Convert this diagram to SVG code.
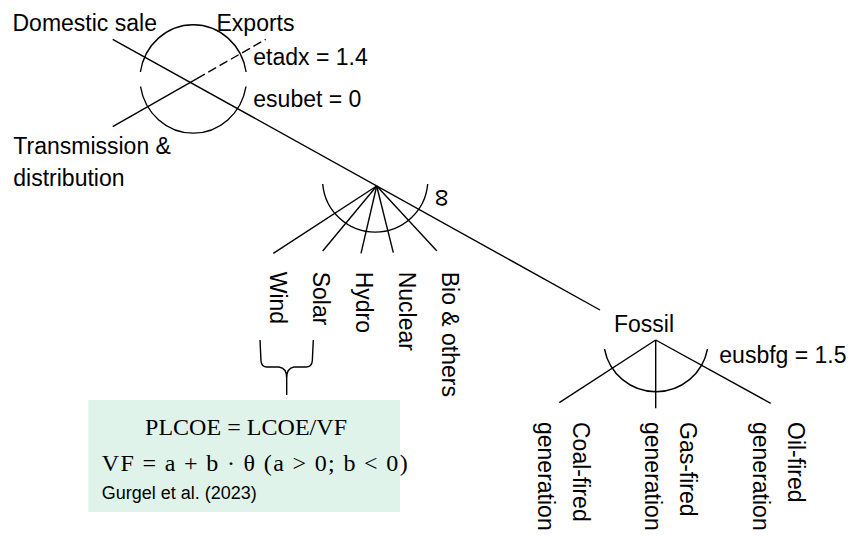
<svg xmlns="http://www.w3.org/2000/svg" width="856" height="536" viewBox="0 0 856 536">
  <style>
    .ln { fill: none; stroke: #000; stroke-width: 1.4; stroke-linecap: butt; }
    .dash { stroke-dasharray: 9 4; }
    .lbl { font-family: "Liberation Sans", Arial, sans-serif; font-size: 23px; fill: #000; }
    .math { font-family: "Liberation Serif", "Times New Roman", serif; font-size: 24px; fill: #000; }
    .ref { font-family: "Liberation Sans", Arial, sans-serif; font-size: 18px; fill: #000; }
  </style>
  <rect width="856" height="536" fill="#fff"/>

  <!-- branches of the nesting tree -->
  <g id="connectors">
    <!-- domestic sale -> renewables nest -> fossil -->
    <line class="ln" x1="112.7" y1="39.3" x2="600" y2="310"/>
    <!-- transmission & distribution, with dashed export branch -->
    <line class="ln" x1="112.7" y1="126.7" x2="197" y2="78.6"/>
    <line class="ln dash" x1="197" y1="78.6" x2="265.7" y2="39.3"/>
    <!-- renewable technologies -->
    <line class="ln" x1="376.7" y1="186" x2="273.3" y2="253.3"/>
    <line class="ln" x1="376.7" y1="186" x2="322.7" y2="251"/>
    <line class="ln" x1="376.7" y1="186" x2="361" y2="253.3"/>
    <line class="ln" x1="376.7" y1="186" x2="393.3" y2="252.7"/>
    <line class="ln" x1="376.7" y1="186" x2="436.7" y2="250.7"/>
    <!-- fossil technologies -->
    <line class="ln" x1="655.7" y1="340" x2="559.3" y2="402.7"/>
    <line class="ln" x1="655.7" y1="340" x2="655.7" y2="408.3"/>
    <line class="ln" x1="655.7" y1="340" x2="770.7" y2="403.3"/>
    <!-- brace joining wind and solar to the cost note -->
    <path class="ln" d="M260 340 L261 361 Q261.5 367 267 367 L279 367 Q286.7 368 286.7 378 L286.7 395 M313.3 340 L312.3 361 Q311.8 367 306 367 L294 367 Q286.7 368 286.7 378"/>
  </g>

  <!-- top nest: sales vs. transmission -->
  <g id="node-top">
    <path class="ln" d="M140.4 72 A53.5 56 0 0 1 246.1 72"/>
    <path class="ln" d="M140.5 86.5 A53.5 56 0 0 0 246 86.5"/>
    <text class="lbl" x="12.5" y="30.5">Domestic sale</text>
    <text class="lbl" x="216.5" y="30.5">Exports</text>
    <text class="lbl" x="253.3" y="65">etadx = 1.4</text>
    <text class="lbl" x="253.3" y="107.3">esubet = 0</text>
    <text class="lbl" x="13.3" y="154.3">Transmission &amp;</text>
    <text class="lbl" x="13.3" y="185.7">distribution</text>
  </g>

  <!-- renewables nest -->
  <g id="node-renewables">
    <path class="ln" d="M322.7 184 A52.7 52.7 0 0 0 427.7 184"/>
    <text class="lbl" style="font-size:25px" text-anchor="middle" transform="translate(440,198) rotate(90) scale(1,1.2)" x="0" y="6">∞</text>
    <text class="lbl" transform="translate(270,271.7) rotate(90)">Wind</text>
    <text class="lbl" transform="translate(313,271.7) rotate(90)">Solar</text>
    <text class="lbl" transform="translate(356,271.7) rotate(90)">Hydro</text>
    <text class="lbl" transform="translate(399,271.7) rotate(90)">Nuclear</text>
    <text class="lbl" transform="translate(442,271.7) rotate(90)">Bio &amp; others</text>
  </g>

  <!-- fossil nest -->
  <g id="node-fossil">
    <path class="ln" d="M604.5 349 A52.4 52.4 0 0 0 707.5 349"/>
    <text class="lbl" x="614" y="331.7">Fossil</text>
    <text class="lbl" x="719.3" y="363.3">eusbfg = 1.5</text>
    <text class="lbl" transform="translate(573,422) rotate(90)">Coal-fired</text>
    <text class="lbl" transform="translate(538,422) rotate(90)">generation</text>
    <text class="lbl" transform="translate(680,422) rotate(90)">Gas-fired</text>
    <text class="lbl" transform="translate(645,422) rotate(90)">generation</text>
    <text class="lbl" transform="translate(788,422) rotate(90)">Oil-fired</text>
    <text class="lbl" transform="translate(753,422) rotate(90)">generation</text>
  </g>

  <!-- cost note for variable renewables -->
  <g id="node-plcoe">
    <rect x="88.3" y="400" width="311.7" height="112" fill="#dff3ea"/>
    <text class="math" x="246" y="435" text-anchor="middle" textLength="202" lengthAdjust="spacing">PLCOE = LCOE/VF</text>
    <text class="math" x="101.7" y="471" textLength="306" lengthAdjust="spacing">VF = a + b · θ  (a &gt; 0; b &lt; 0)</text>
    <text class="ref" x="101.7" y="499">Gurgel et al. (2023)</text>
  </g>
</svg>
